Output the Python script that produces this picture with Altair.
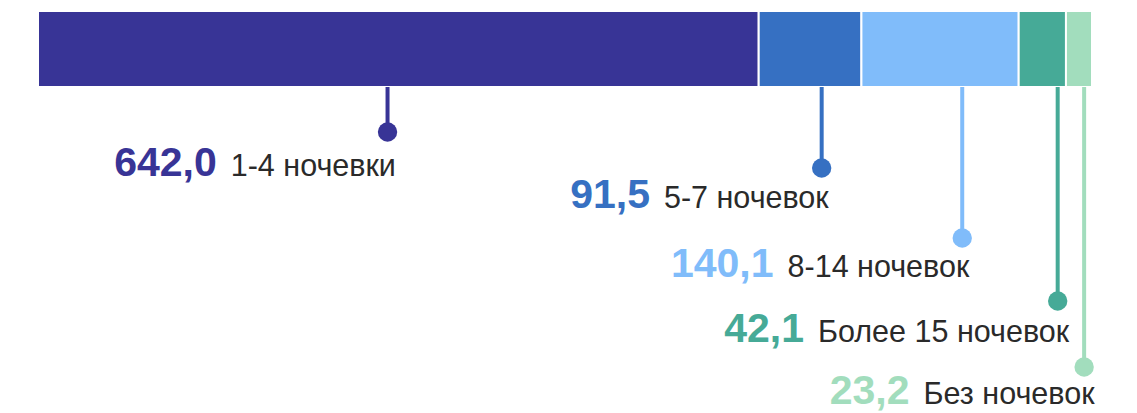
import altair as alt
import pandas as pd

# ---- data ----
categories = ["1-4 ночевки", "5-7 ночевок", "8-14 ночевок", "Более 15 ночевок", "Без ночевок"]
values = [642.0, 91.5, 140.1, 42.1, 23.2]
value_labels = ["642,0", "91,5", "140,1", "42,1", "23,2"]
colors = ["#383496", "#3670C2", "#80BCFA", "#46AA97", "#A2DDBD"]

# ---- callout layout (styling, not data) ----
stem_anchor = [0.485, 0.613, 0.641, 0.825, 0.698]  # fraction along each segment
dot_level = [132, 168, 238, 301, 367]              # px from top of chart
text_drop = [44, 40, 39, 41, 37]                   # px from dot centre to text baseline
text_end = [9, 8, 8, 13, 12]                       # px from stem to end of label

PLOT_W = 1054
PAD_L = 38
H = 413
REG_SIZE = 30.5
BOLD_SIZE = 41
GAP = 14

# approximate Liberation Sans (Arial) advance widths, per 1000 em
W = {"0": 556, "1": 556, "2": 556, "3": 556, "4": 556, "5": 556, "6": 556,
     "7": 556, "8": 556, "9": 556, "-": 333, " ": 278, ",": 278,
     "н": 552, "о": 556, "ч": 521, "е": 556, "в": 531, "к": 438, "и": 559,
     "л": 583, "з": 458, "Б": 656}


def text_w(s, size):
    return sum(W.get(c, 556) for c in s) * size / 1000.0


total = sum(values)
ppu = PLOT_W / total

df = pd.DataFrame({"cat": categories, "value": values, "vlabel": value_labels,
                   "anchor": stem_anchor, "level": dot_level, "drop": text_drop,
                   "tend": text_end})
df["end"] = df["value"].cumsum()
df["start"] = df["end"] - df["value"]
df["stem"] = df["start"] + df["anchor"] * df["value"]
df["reg_x"] = df["stem"] + (df["tend"] - df["cat"].map(lambda s: text_w(s, REG_SIZE))) / ppu
df["bold_x"] = df["reg_x"] - GAP / ppu
df["text_y"] = df["level"] + df["drop"]

xs = alt.Scale(domain=[0, total], nice=False, zero=True)
ys = alt.Scale(domain=[0, H], range=[0, H], nice=False, zero=False)
col = alt.Color("cat:N", scale=alt.Scale(domain=categories, range=colors), legend=None)

base = alt.Chart(df)

bar = base.mark_bar(stroke="white", strokeWidth=2).encode(
    x=alt.X("start:Q", scale=xs, axis=None),
    x2="end:Q",
    y=alt.value(11),
    y2=alt.value(87),
    color=col,
)

stem = base.mark_rule(strokeWidth=4).encode(
    x=alt.X("stem:Q", scale=xs, axis=None),
    y=alt.Y("level:Q", scale=ys, axis=None),
    y2=alt.value(87),
    color=col,
)

dot = base.mark_circle(size=375, opacity=1).encode(
    x=alt.X("stem:Q", scale=xs, axis=None),
    y=alt.Y("level:Q", scale=ys, axis=None),
    color=col,
)

bold = base.mark_text(align="right", baseline="alphabetic", fontSize=BOLD_SIZE,
                      fontWeight="bold", font="Liberation Sans").encode(
    x=alt.X("bold_x:Q", scale=xs, axis=None),
    y=alt.Y("text_y:Q", scale=ys, axis=None),
    text="vlabel:N",
    color=col,
)

reg = base.mark_text(align="left", baseline="alphabetic", fontSize=REG_SIZE,
                     font="Liberation Sans", color="#2a2a2a").encode(
    x=alt.X("reg_x:Q", scale=xs, axis=None),
    y=alt.Y("text_y:Q", scale=ys, axis=None),
    text="cat:N",
)

chart = alt.layer(bar, stem, dot, bold, reg).properties(
    width=PLOT_W, height=H,
    autosize=alt.AutoSizeParams(type="none"),
    padding={"left": PAD_L, "top": 0, "right": 1137 - PAD_L - PLOT_W, "bottom": 0},
    background="white",
).configure_view(stroke=None)

chart.save("out.html", embed_options={"renderer": "svg", "actions": False})
